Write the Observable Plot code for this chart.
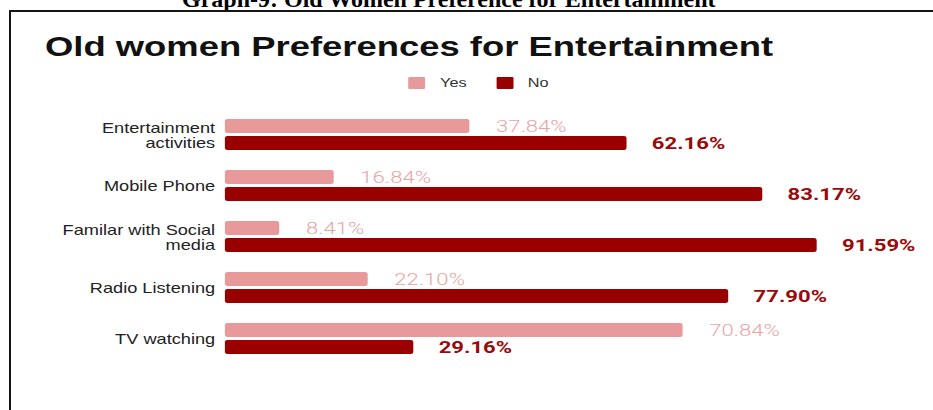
<!DOCTYPE html>
<html>
<head>
<meta charset="utf-8">
<script src="https://cdn.jsdelivr.net/npm/d3@7"></script>
<script src="https://cdn.jsdelivr.net/npm/@observablehq/plot@0.6"></script>
<style>
  html, body { margin: 0; padding: 0; background: #fff; overflow: hidden; width: 933px; height: 410px; }
  #header { position: absolute; left: 182px; top: -13px; font: bold 24px "Liberation Serif", "Times New Roman", serif; line-height: 1; color: #000; white-space: nowrap; }
  #frame { position: absolute; left: 9px; top: 10px; width: 1000px; height: 1000px; border: 2px solid #151515; }
  #stretch { position: absolute; left: 0; top: 0; width: 718px; height: 410px; transform: scaleX(1.3); transform-origin: 0 0; }
  #title { position: absolute; left: 34.6px; top: 33.3px; font: bold 28px "Liberation Sans", Arial, sans-serif; line-height: 1; color: #111; white-space: nowrap; }
  .sw { position: absolute; top: 77px; width: 13px; height: 12px; border-radius: 1px; }
  .lt { position: absolute; top: 76.9px; font: 12.5px "Liberation Sans", Arial, sans-serif; line-height: 1; color: #333; white-space: nowrap; }
  #chart { position: absolute; left: 0; top: 100px; }
  g[aria-label="yes-labels"] text, g[aria-label="no-labels"] text { letter-spacing: 1px; }
</style>
</head>
<body>
<div id="header">Graph-9: Old Women Preference for Entertainment</div>
<div id="frame"></div>
<div id="stretch">
  <div id="title">Old women Preferences for Entertainment</div>
  <div class="sw" id="swYes" style="left:314px"></div>
  <div class="lt" style="left:338.5px">Yes</div>
  <div class="sw" id="swNo" style="left:381.5px"></div>
  <div class="lt" style="left:406px">No</div>
  <div id="chart"></div>
</div>
<script>
const categories = ["Entertainment activities", "Mobile Phone", "Familar with Social media", "Radio Listening", "TV watching"];
const tickLabels = ["Entertainment\nactivities", "Mobile Phone", "Familar with Social\nmedia", "Radio Listening", "TV watching"];
const seriesNames = ["Yes", "No"];
const yesValues = [37.84, 16.84, 8.41, 22.10, 70.84];
const noValues = [62.16, 83.17, 91.59, 77.90, 29.16];
const colors = ["#e8999a", "#990000"];
const labelColors = ["#eca3a4", "#9a0a0a"];

document.getElementById("swYes").style.background = colors[0];
document.getElementById("swNo").style.background = colors[1];

const data = [];
categories.forEach((c, i) => {
  data.push({category: c, series: "Yes", value: yesValues[i]});
  data.push({category: c, series: "No", value: noValues[i]});
});
const labelOf = new Map(categories.map((c, i) => [c, tickLabels[i]]));
const fmt = d => d.value.toFixed(2) + "%";

const chart = Plot.plot({
  width: 718,
  height: 310,
  marginLeft: 173,
  marginRight: 48,
  marginTop: 17,
  marginBottom: 52,
  style: {fontFamily: "'Liberation Sans', Arial, sans-serif", background: "transparent", overflow: "visible"},
  x: {domain: [0, 100], axis: null},
  y: {domain: seriesNames, axis: null, paddingInner: 0.17, paddingOuter: 0},
  fy: {domain: categories, paddingInner: 0.365, paddingOuter: 0},
  color: {domain: seriesNames, range: colors},
  marks: [
    Plot.barX(data, {x: "value", y: "series", fy: "category", fill: "series", rx: 2}),
    Plot.text(data.filter(d => d.series === "Yes"), {
      x: "value", y: "series", fy: "category", text: fmt, dx: 20, textAnchor: "start",
      fill: labelColors[0], fontSize: 17, fontWeight: 300, fontFamily: "Roboto, sans-serif", ariaLabel: "yes-labels"
    }),
    Plot.text(data.filter(d => d.series === "No"), {
      x: "value", y: "series", fy: "category", text: fmt, dx: 19, textAnchor: "start",
      fill: labelColors[1], fontSize: 17, fontWeight: "bold", fontFamily: "Roboto, sans-serif", ariaLabel: "no-labels"
    }),
    Plot.axisFy({anchor: "left", tickSize: 0, tickPadding: 8, fontSize: 14, fill: "#222", label: null, lineHeight: 1.07, tickFormat: d => labelOf.get(d)})
  ]
});
document.getElementById("chart").appendChild(chart);
</script>
</body>
</html>
